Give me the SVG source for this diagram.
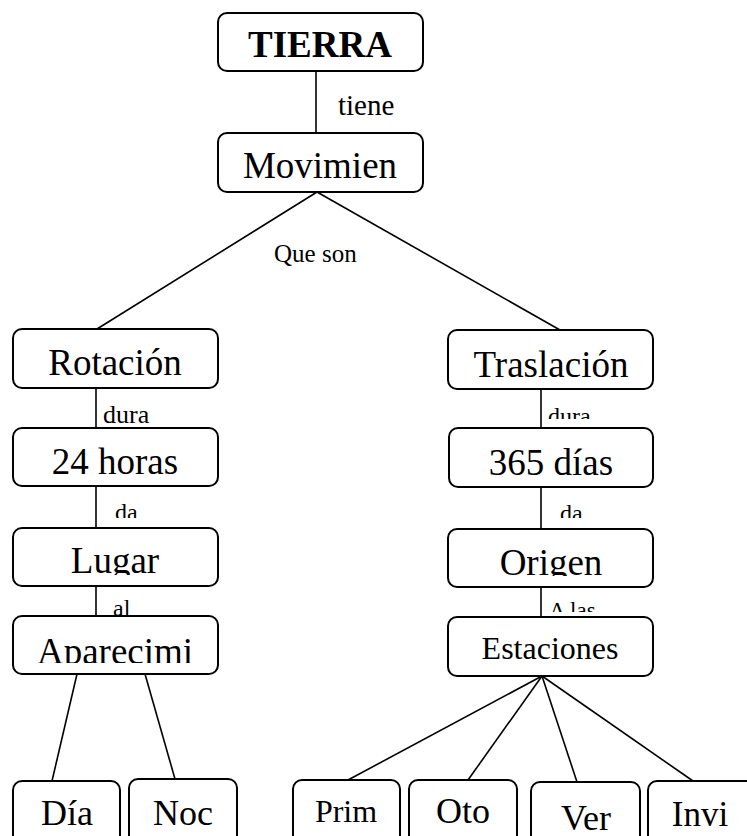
<svg xmlns="http://www.w3.org/2000/svg" width="747" height="836" viewBox="0 0 747 836">
  <style>
    .box { fill: #ffffff; stroke: #000000; stroke-width: 2; }
    .link { stroke: #000000; stroke-width: 1.6; fill: none; }
    text { font-family: "Liberation Serif", "Times New Roman", serif; fill: #000000; }
    .node { font-size: 37px; text-anchor: middle; }
    .small { font-size: 32px; text-anchor: middle; }
    .lbl { font-size: 25px; }
  </style>
  <defs>
    <clipPath id="clip-dura-r"><rect x="540" y="395" width="80" height="24"/></clipPath>
    <clipPath id="clip-da-l"><rect x="100" y="495" width="80" height="23"/></clipPath>
    <clipPath id="clip-da-r"><rect x="545" y="495" width="80" height="23"/></clipPath>
    <clipPath id="clip-al"><rect x="100" y="590" width="80" height="25"/></clipPath>
    <clipPath id="clip-alas"><rect x="545" y="590" width="80" height="22"/></clipPath>
    <clipPath id="clip-lugar"><rect x="13" y="528" width="205" height="47"/></clipPath>
    <clipPath id="clip-origen"><rect x="448" y="529" width="205" height="47"/></clipPath>
    <clipPath id="clip-aparecimi"><rect x="13" y="616" width="205" height="47"/></clipPath>
  </defs>

  <!-- connectors -->
  <g id="connectors">
    <line class="link" x1="316" y1="71" x2="316" y2="133"/>
    <line class="link" x1="317" y1="192" x2="97" y2="329"/>
    <line class="link" x1="317" y1="192" x2="560" y2="330"/>
    <line class="link" x1="96" y1="388" x2="96" y2="428"/>
    <line class="link" x1="96" y1="486" x2="96" y2="528"/>
    <line class="link" x1="96" y1="586" x2="96" y2="616"/>
    <line class="link" x1="541" y1="389" x2="541" y2="428"/>
    <line class="link" x1="541" y1="487" x2="541" y2="529"/>
    <line class="link" x1="541" y1="587" x2="541" y2="617"/>
    <line class="link" x1="77" y1="674" x2="52" y2="781"/>
    <line class="link" x1="145" y1="674" x2="175" y2="779"/>
    <line class="link" x1="542" y1="676" x2="348" y2="780"/>
    <line class="link" x1="542" y1="676" x2="468" y2="780"/>
    <line class="link" x1="542" y1="676" x2="577" y2="782"/>
    <line class="link" x1="542" y1="676" x2="693" y2="781"/>
  </g>

  <!-- link labels -->
  <g id="labels">
    <text class="lbl" x="338" y="115" style="font-size:29px">tiene</text>
    <text class="lbl" x="274" y="262">Que son</text>
    <text class="lbl" x="103" y="423" style="font-size:26px">dura</text>
    <text class="lbl" x="548" y="424" style="font-size:24px" clip-path="url(#clip-dura-r)">dura</text>
    <text class="lbl" x="115" y="520" style="font-size:24px" clip-path="url(#clip-da-l)">da</text>
    <text class="lbl" x="560" y="521" style="font-size:24px" clip-path="url(#clip-da-r)">da</text>
    <text class="lbl" x="113" y="616" style="font-size:24px" clip-path="url(#clip-al)">al</text>
    <text class="lbl" x="549" y="618" style="font-size:23px" clip-path="url(#clip-alas)">A las</text>
  </g>

  <!-- nodes -->
  <g id="tierra">
    <rect class="box" x="218" y="13" width="205" height="58" rx="9"/>
    <text class="node" x="320" y="57" font-weight="bold">TIERRA</text>
  </g>
  <g id="movimien">
    <rect class="box" x="218" y="133" width="205" height="59" rx="9"/>
    <text class="node" x="320" y="178">Movimien</text>
  </g>
  <g id="rotacion">
    <rect class="box" x="13" y="329" width="205" height="59" rx="9"/>
    <text class="node" x="115" y="375">Rotación</text>
  </g>
  <g id="horas24">
    <rect class="box" x="13" y="428" width="205" height="58" rx="9"/>
    <text class="node" x="115" y="474">24 horas</text>
  </g>
  <g id="lugar">
    <rect class="box" x="13" y="528" width="205" height="58" rx="9"/>
    <text class="node" x="115" y="573" clip-path="url(#clip-lugar)">Lugar</text>
  </g>
  <g id="aparecimi">
    <rect class="box" x="13" y="616" width="205" height="58" rx="9"/>
    <text class="node" x="115" y="664" clip-path="url(#clip-aparecimi)">Aparecimi</text>
  </g>
  <g id="traslacion">
    <rect class="box" x="448" y="330" width="205" height="59" rx="9"/>
    <text class="node" x="551" y="377">Traslación</text>
  </g>
  <g id="dias365">
    <rect class="box" x="449" y="428" width="204" height="59" rx="9"/>
    <text class="node" x="551" y="475">365 días</text>
  </g>
  <g id="origen">
    <rect class="box" x="448" y="529" width="205" height="58" rx="9"/>
    <text class="node" x="551" y="575" clip-path="url(#clip-origen)">Origen</text>
  </g>
  <g id="estaciones">
    <rect class="box" x="448" y="617" width="205" height="59" rx="9"/>
    <text class="small" x="550" y="659">Estaciones</text>
  </g>
  <g id="dia">
    <rect class="box" x="13" y="781" width="107" height="80" rx="9"/>
    <text class="node" x="67" y="825" style="font-size:36px">Día</text>
  </g>
  <g id="noc">
    <rect class="box" x="129" y="779" width="108" height="80" rx="9"/>
    <text class="node" x="183" y="825" style="font-size:36px">Noc</text>
  </g>
  <g id="prim">
    <rect class="box" x="293" y="780" width="107" height="80" rx="9"/>
    <text class="small" x="346" y="822">Prim</text>
  </g>
  <g id="oto">
    <rect class="box" x="409" y="780" width="108" height="80" rx="9"/>
    <text class="node" x="463" y="823" style="font-size:36px">Oto</text>
  </g>
  <g id="ver">
    <rect class="box" x="531" y="782" width="109" height="80" rx="9"/>
    <text class="node" x="586" y="830" style="font-size:36px">Ver</text>
  </g>
  <g id="invi">
    <rect class="box" x="648" y="781" width="120" height="80" rx="9"/>
    <text class="node" x="700" y="826" style="font-size:35px">Invi</text>
  </g>
</svg>
